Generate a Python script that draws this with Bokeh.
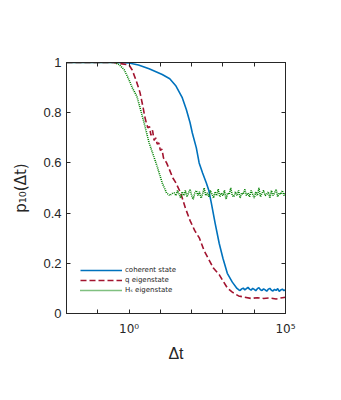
import numpy as np
from bokeh.plotting import figure
from bokeh.models import LogAxis, LinearAxis, FixedTicker, Legend, LegendItem, Range1d
from bokeh.embed import file_html
from bokeh.resources import INLINE

# ---------------- data (log10 of Δt, p10) ----------------
coh_logx = [-2.0, -1.0, -0.5, 0.0, 0.3, 0.64, 1.06, 1.3, 1.5, 1.7, 1.83, 1.95, 2.02, 2.15,
            2.24, 2.35, 2.47, 2.55, 2.63, 2.75, 2.88, 3.0, 3.14, 3.3, 3.45, 3.5]
coh_p = [1.0, 1.0, 1.0, 0.998, 0.99, 0.975, 0.952, 0.935, 0.906, 0.86, 0.813, 0.76, 0.72, 0.66,
         0.60, 0.56, 0.52, 0.49, 0.44, 0.36, 0.28, 0.22, 0.16, 0.125, 0.10, 0.095]
coh_tail = [0.092, 0.098, 0.101, 0.094, 0.099, 0.104, 0.097, 0.093, 0.100, 0.096,
            0.091, 0.099, 0.103, 0.095, 0.092, 0.098, 0.094, 0.089, 0.097, 0.100,
            0.093, 0.090, 0.096, 0.092, 0.099, 0.088, 0.094, 0.097, 0.091, 0.095]

q_logx = [-2.0, -0.5, 0.0, 0.1, 0.22, 0.3, 0.35, 0.45, 0.5, 0.55, 0.6, 0.65, 0.7, 0.75, 0.8,
          0.85, 0.9, 0.95, 1.0, 1.05, 1.1, 1.2, 1.3, 1.4, 1.5, 1.65, 1.8, 1.95, 2.1, 2.25,
          2.4, 2.55, 2.7, 2.88, 3.0, 3.15, 3.3, 3.5, 3.7, 3.9, 4.1, 4.3, 4.5, 4.7, 4.9, 5.0]
q_p = [1.0, 1.0, 0.99, 0.97, 0.93, 0.90, 0.88, 0.82, 0.785, 0.76, 0.74, 0.745, 0.71, 0.73, 0.69,
       0.70, 0.675, 0.68, 0.65, 0.655, 0.62, 0.60, 0.57, 0.54, 0.52, 0.48, 0.42, 0.37, 0.33, 0.30,
       0.25, 0.215, 0.18, 0.155, 0.13, 0.10, 0.085, 0.07, 0.065, 0.06, 0.063, 0.06, 0.062, 0.058,
       0.063, 0.065]

hs_logx = [-2.0, -0.45, -0.3, -0.15, 0.0, 0.1, 0.25, 0.35, 0.48, 0.64, 0.86, 0.9, 1.06, 1.2,
           1.3, 1.4]
hs_p = [1.0, 1.0, 0.99, 0.97, 0.93, 0.90, 0.865, 0.82, 0.76, 0.68, 0.60, 0.585, 0.52, 0.48,
        0.47, 0.48]
hs_tail = [0.480, 0.470, 0.490, 0.475, 0.460, 0.485, 0.470, 0.490, 0.465, 0.480,
           0.495, 0.470, 0.455, 0.480, 0.490, 0.470, 0.485, 0.460, 0.475, 0.500,
           0.470, 0.480, 0.465, 0.490, 0.475, 0.460, 0.485, 0.470, 0.495, 0.465,
           0.480, 0.470, 0.490, 0.455, 0.480, 0.475, 0.500, 0.470, 0.465, 0.485,
           0.470, 0.490, 0.460, 0.480, 0.475, 0.495, 0.470, 0.480, 0.465, 0.490,
           0.475, 0.460, 0.485, 0.470, 0.500, 0.465, 0.480, 0.490, 0.470, 0.475,
           0.485, 0.460, 0.490, 0.470, 0.480, 0.495, 0.465, 0.480, 0.475, 0.490,
           0.470, 0.480]

x_labeled_ticks = [1, 100000]
x_unlabeled_ticks = [0.1, 10, 100, 1000, 10000]
x_tick_labels = {1: "10⁰", 100000: "10⁵"}
y_ticks = [0, 0.2, 0.4, 0.6, 0.8, 1]

series_names = ["coherent state", "q eigenstate", "H\u209b eigenstate"]

# ---------------- build ----------------
coh_lx = coh_logx + list(np.round(np.arange(3.55, 5.0001, 0.05), 3))
coh_y = coh_p + coh_tail
hs_lx = hs_logx + list(np.round(np.arange(1.45, 5.0001, 0.05), 3))
hs_y = hs_p + hs_tail

def tx(lx):
    return [10 ** v for v in lx]

FONT = "Liberation Sans"
FONT_SUB = "DejaVu Sans"
AX = "#262626"

p = figure(width=325, height=384, x_axis_type="log", output_backend="svg",
           toolbar_location=None, x_range=Range1d(1e-2, 1e5), y_range=Range1d(0, 1),
           frame_width=219, frame_height=251,
           min_border_left=66, min_border_top=62, min_border_right=40, min_border_bottom=71)
p.grid.visible = False
p.background_fill_color = "white"
p.border_fill_color = "white"
p.outline_line_color = AX

r_coh = p.line(tx(coh_lx), coh_y, line_color="#0072BD", line_width=1.6)
r_q = p.line(tx(q_logx), q_p, line_color="#A2142F", line_width=1.6, line_dash="6 3")
r_hs = p.line(tx(hs_lx), hs_y, line_color="#008000", line_width=1.6, line_dash="1 1")

xax = p.xaxis[0]
xax.ticker = FixedTicker(ticks=[float(v) for v in x_labeled_ticks],
                         minor_ticks=[float(v) for v in x_unlabeled_ticks])
xax.major_label_overrides = {float(k): v for k, v in x_tick_labels.items()}
xax.axis_label = "Δt"

yax = p.yaxis[0]
yax.ticker = FixedTicker(ticks=y_ticks)
yax.axis_label = "p₁₀(Δt)"

all_x = sorted([float(v) for v in x_labeled_ticks + x_unlabeled_ticks])
top = LogAxis(ticker=FixedTicker(ticks=[], minor_ticks=all_x))
right = LinearAxis(ticker=FixedTicker(ticks=[], minor_ticks=y_ticks))
p.add_layout(top, "above")
p.add_layout(right, "right")

for ax in [xax, yax, top, right]:
    ax.major_tick_in = 4
    ax.major_tick_out = 0
    ax.minor_tick_in = 4
    ax.minor_tick_out = 0
    ax.axis_line_color = AX
    ax.major_tick_line_color = AX
    ax.minor_tick_line_color = AX
    ax.major_label_text_font = FONT
    ax.major_label_text_color = AX
    ax.axis_label_text_font = FONT
    ax.axis_label_text_font_style = "normal"
    ax.axis_label_text_color = AX

xax.major_label_text_font = FONT_SUB
xax.major_label_text_font_size = "12px"
yax.major_label_text_font_size = "13px"
xax.axis_label_text_font_size = "16px"
yax.axis_label_text_font = FONT_SUB
yax.axis_label_text_font_size = "15px"
xax.major_label_standoff = 8
yax.major_label_standoff = 5
xax.axis_label_standoff = 6
yax.axis_label_standoff = 10

legend = Legend(items=[LegendItem(label=series_names[0], renderers=[r_coh]),
                       LegendItem(label=series_names[1], renderers=[r_q]),
                       LegendItem(label=series_names[2], renderers=[r_hs])],
                location=(14, 18), padding=0, margin=0, spacing=0,
                glyph_width=42, glyph_height=10, label_height=10,
                label_standoff=3, label_text_font_size="7px", label_text_font=FONT_SUB,
                label_text_color=AX, border_line_color=None, background_fill_alpha=0)
p.add_layout(legend, "center")

open("out.html", "w").write(file_html(p, INLINE))
